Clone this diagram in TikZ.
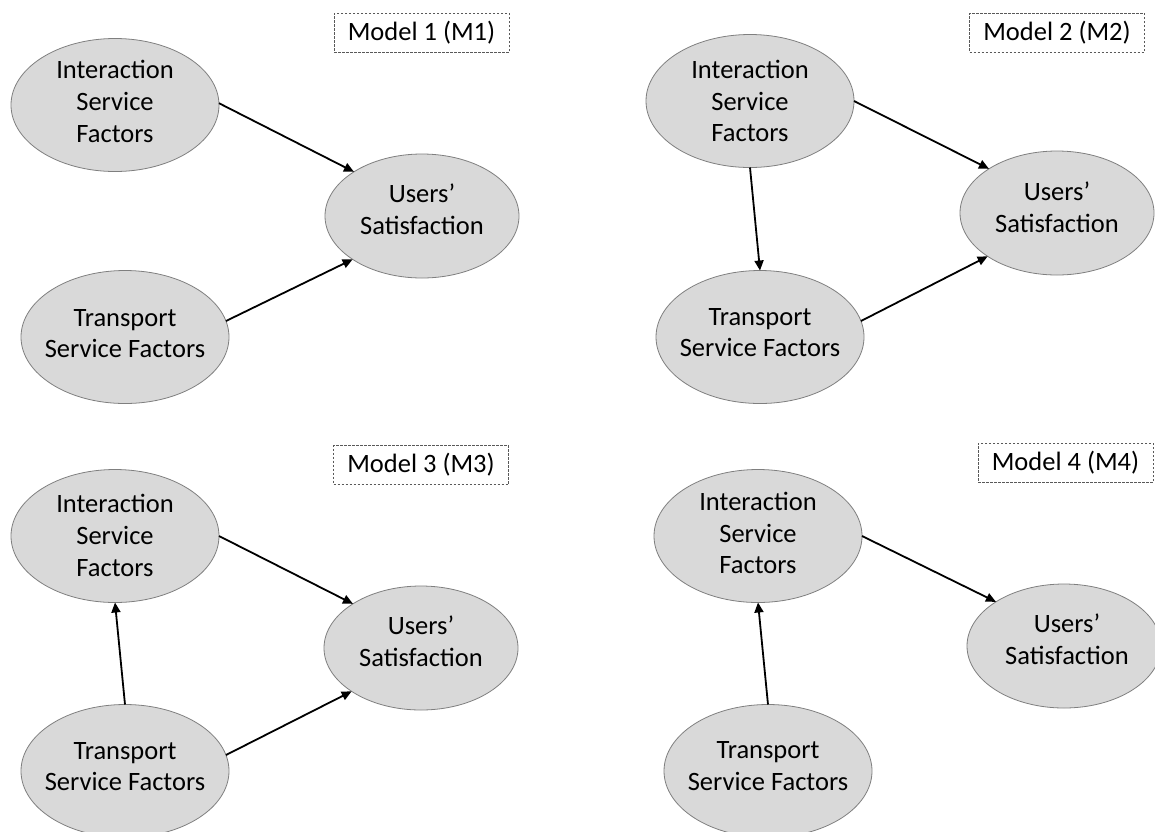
\documentclass[tikz,border=0pt]{standalone}
\usepackage{fontspec}
\setmainfont{Carlito}
\usetikzlibrary{arrows.meta,shapes.geometric}
\definecolor{ellfill}{HTML}{D9D9D9}
\definecolor{ellline}{HTML}{7F7F7F}
\definecolor{boxline}{HTML}{595959}
\tikzset{
  ellbig/.style={ellipse, draw=ellline, line width=0.8pt, fill=ellfill,
    minimum width=208pt, minimum height=133pt, inner sep=0pt, outer sep=0pt},
  ellsmall/.style={ellbig, minimum width=194pt, minimum height=124pt},
  txt/.style={align=center, font=\fontsize{26.5}{31.7}\selectfont, inner sep=0pt, text=black},
  modelbox/.style={draw=boxline, dash pattern=on 2.5pt off 1.5pt, line width=0.7pt,
    minimum width=175pt, minimum height=39pt, inner sep=0pt,
    font=\fontsize{26.5}{31.7}\selectfont},
  link/.style={-{Triangle[length=10pt,width=9pt]}, line width=1.8pt, black}
}
\begin{document}
\begin{tikzpicture}[x=1pt,y=-1pt]
\useasboundingbox (0,0) rectangle (1155,831);
% ---------- Model 1 ----------
\node[ellbig]   (I1) at (115,105) {};
\node[ellbig]   (T1) at (125,337) {};
\node[ellsmall] (U1) at (422,216) {};
\node[txt] (I1t) at ([yshift=3.5pt]I1.center) {Interaction\\Service\\Factors};
\node[txt] (T1t) at ([yshift=3.5pt]T1.center) {Transport\\Service Factors};
\node[txt] (U1t) at ([yshift=7pt]U1.center) {Users’\\Satisfaction};
\node[modelbox] (M1) at (421.5,32.5) {Model 1 (M1)};
\draw[link] (I1.1) -- (U1.147.4);
\draw[link] (T1.9) -- (U1.212.6);
% ---------- Model 2 ----------
\node[ellbig]   (I2) at (750,101) {};
\node[ellbig]   (T2) at (760,337) {};
\node[ellsmall] (U2) at (1057,213) {};
\node[txt] (I2t) at ([yshift=0pt]I2.center) {Interaction\\Service\\Factors};
\node[txt] (T2t) at ([yshift=4.5pt]T2.center) {Transport\\Service Factors};
\node[txt] (U2t) at ([yshift=6pt]U2.center) {Users’\\Satisfaction};
\node[modelbox] (M2) at (1057,32.5) {Model 2 (M2)};
\draw[link] (I2.0) -- (U2.147.4);
\draw[link] (T2.9) -- (U2.212.6);
\draw[link] (I2.south) -- (T2.north);
% ---------- Model 3 ----------
\node[ellbig]   (I3) at (115,536) {};
\node[ellbig]   (T3) at (125,771) {};
\node[ellsmall] (U3) at (421,648) {};
\node[txt] (I3t) at ([yshift=0.5pt]I3.center) {Interaction\\Service\\Factors};
\node[txt] (T3t) at ([yshift=4.5pt]T3.center) {Transport\\Service Factors};
\node[txt] (U3t) at ([yshift=7pt]U3.center) {Users’\\Satisfaction};
\node[modelbox] (M3) at (421,465) {Model 3 (M3)};
\draw[link] (I3.0) -- (U3.147.4);
\draw[link] (T3.north) -- (I3.south);
\draw[link] (T3.9) -- (U3.212.6);
% ---------- Model 4 ----------
\node[ellbig]   (I4) at (758,536) {};
\node[ellbig]   (T4) at (768,771) {};
\node[ellsmall] (U4) at (1064,646) {};
\node[txt] (I4t) at ([yshift=3pt]I4.center) {Interaction\\Service\\Factors};
\node[txt] (T4t) at ([yshift=5pt]T4.center) {Transport\\Service Factors};
\node[txt] (U4t) at ([xshift=3pt,yshift=7pt]U4.center) {Users’\\Satisfaction};
\node[modelbox] (M4) at (1065.5,462.5) {Model 4 (M4)};
\draw[link] (I4.0) -- (U4.147.4);
\draw[link] (T4.north) -- (I4.south);
\end{tikzpicture}
\end{document}
